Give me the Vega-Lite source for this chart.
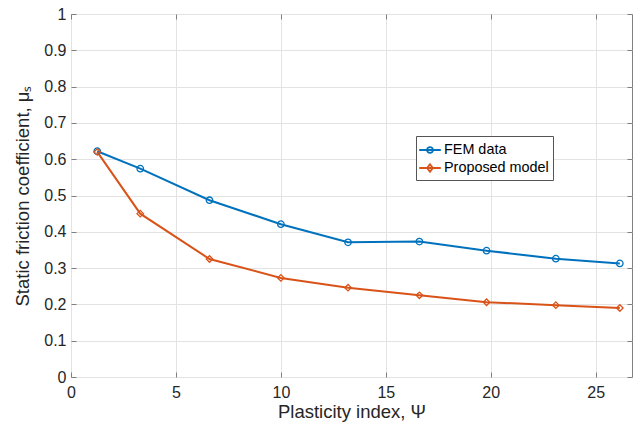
{
  "$schema": "https://vega.github.io/schema/vega-lite/v6.json",
  "width": 561,
  "height": 363,
  "autosize": {"type": "none"},
  "padding": {"left": 71, "top": 14, "right": 4, "bottom": 48},
  "config": {
    "font": "Liberation Sans",
    "view": {"stroke": "#7f7f7f", "strokeWidth": 1},
    "axis": {
      "labelFont": "Liberation Sans",
      "labelFontSize": 16,
      "labelColor": "#262626",
      "titleFont": "Liberation Sans",
      "titleFontSize": 18.5,
      "titleFontWeight": "normal",
      "titleColor": "#262626",
      "gridColor": "#e3e3e3",
      "gridWidth": 1,
      "domain": false,
      "tickColor": "#7f7f7f",
      "tickSize": -5
    },
    "legend": {
      "orient": "none",
      "legendX": 345,
      "legendY": 122,
      "strokeColor": "#555555",
      "fillColor": "white",
      "padding": 4,
      "labelFont": "Liberation Sans",
      "labelFontSize": 14.4,
      "labelColor": "#000000",
      "symbolSize": 324,
      "symbolStrokeWidth": 1.8,
      "labelOffset": 4,
      "rowPadding": 1
    }
  },
  "data": {
    "values": [
      {"x": 1.25, "mu": 0.622, "series": "FEM data"},
      {"x": 3.3, "mu": 0.574, "series": "FEM data"},
      {"x": 6.6, "mu": 0.487, "series": "FEM data"},
      {"x": 10.0, "mu": 0.421, "series": "FEM data"},
      {"x": 13.2, "mu": 0.371, "series": "FEM data"},
      {"x": 16.6, "mu": 0.373, "series": "FEM data"},
      {"x": 19.8, "mu": 0.348, "series": "FEM data"},
      {"x": 23.1, "mu": 0.326, "series": "FEM data"},
      {"x": 26.15, "mu": 0.313, "series": "FEM data"},
      {"x": 1.25, "mu": 0.62, "series": "Proposed model"},
      {"x": 3.3, "mu": 0.45, "series": "Proposed model"},
      {"x": 6.6, "mu": 0.325, "series": "Proposed model"},
      {"x": 10.0, "mu": 0.273, "series": "Proposed model"},
      {"x": 13.2, "mu": 0.246, "series": "Proposed model"},
      {"x": 16.6, "mu": 0.225, "series": "Proposed model"},
      {"x": 19.8, "mu": 0.206, "series": "Proposed model"},
      {"x": 23.1, "mu": 0.198, "series": "Proposed model"},
      {"x": 26.15, "mu": 0.19, "series": "Proposed model"}
    ]
  },
  "layer": [
    {
      "mark": {"type": "line", "strokeWidth": 2},
      "encoding": {
        "x": {
          "field": "x", "type": "quantitative",
          "scale": {"domain": [0, 26.73], "nice": false, "zero": false},
          "axis": {"orient": "bottom", "values": [0, 5, 10, 15, 20, 25], "title": "Plasticity index, Ψ", "labelPadding": 12, "titlePadding": 2, "labelFlush": false}
        },
        "y": {
          "field": "mu", "type": "quantitative",
          "scale": {"domain": [0, 1], "nice": false},
          "axis": {"orient": "left", "values": [0, 0.1, 0.2, 0.3, 0.4, 0.5, 0.6, 0.7, 0.8, 0.9, 1], "format": "~g", "title": "Static friction coefficient, μₛ", "labelPadding": 10, "titlePadding": 11, "labelFlush": false}
        },
        "color": {
          "field": "series", "type": "nominal",
          "scale": {"domain": ["FEM data", "Proposed model"], "range": ["#0072BD", "#D95319"]},
          "legend": null
        }
      }
    },
    {
      "mark": {"type": "point", "filled": false, "size": 42, "strokeWidth": 1.3, "opacity": 1},
      "encoding": {
        "x": {"field": "x", "type": "quantitative", "axis": null},
        "y": {"field": "mu", "type": "quantitative", "axis": null},
        "color": {
          "field": "series", "type": "nominal",
          "scale": {"domain": ["FEM data", "Proposed model"], "range": ["#0072BD", "#D95319"]},
          "legend": null
        },
        "shape": {
          "field": "series", "type": "nominal",
          "scale": {"domain": ["FEM data", "Proposed model"], "range": ["circle", "diamond"]},
          "legend": null
        }
      }
    },
    {
      "transform": [{"filter": "false"}],
      "mark": {"type": "point", "filled": false, "opacity": 1},
      "encoding": {
        "x": {"field": "x", "type": "quantitative", "axis": {"orient": "top", "values": [0, 5, 10, 15, 20, 25], "labels": false, "grid": false, "title": null}},
        "y": {"field": "mu", "type": "quantitative", "axis": {"orient": "right", "values": [0, 0.1, 0.2, 0.3, 0.4, 0.5, 0.6, 0.7, 0.8, 0.9, 1], "labels": false, "grid": false, "title": null}},
        "color": {
          "field": "series", "type": "nominal",
          "scale": {"domain": ["FEM data", "Proposed model"], "range": ["#0072BD", "#D95319"]},
          "legend": {"title": null}
        },
        "shape": {
          "field": "series", "type": "nominal",
          "scale": {"domain": ["FEM data", "Proposed model"], "range": ["M-1.2,0L1.2,0M0.33,0A0.33,0.33,0,1,1,-0.33,0A0.33,0.33,0,1,1,0.33,0Z", "M-1.2,0L1.2,0M0,-0.42L0.32,0L0,0.42L-0.32,0Z"]},
          "legend": {"title": null}
        }
      }
    }
  ],
  "resolve": {
    "scale": {"color": "independent", "shape": "independent"},
    "axis": {"x": "independent", "y": "independent"}
  }
}
